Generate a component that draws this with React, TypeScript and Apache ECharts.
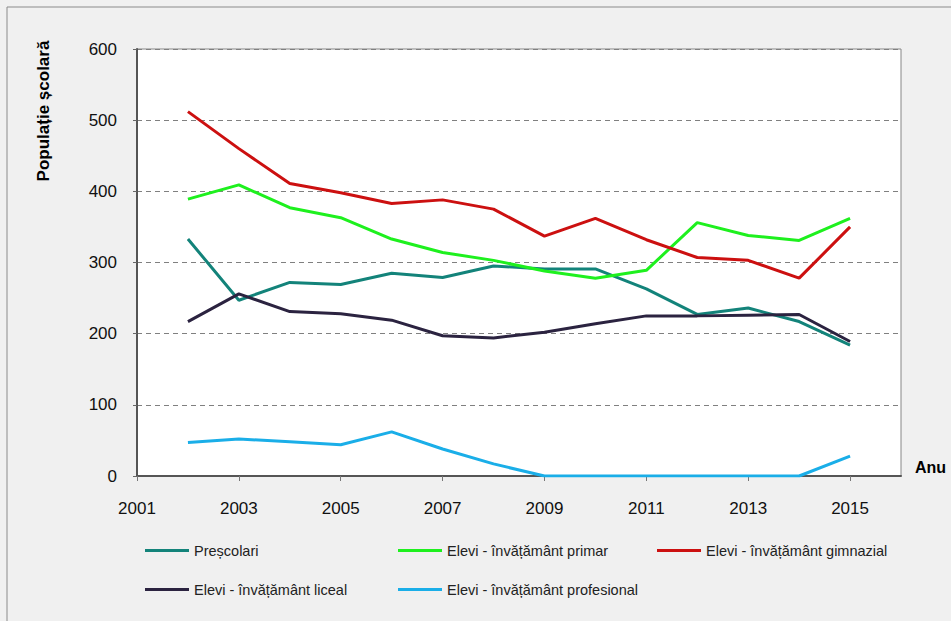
import React, { useEffect, useRef } from "react";
import * as echarts from "echarts";

const years = [2002, 2003, 2004, 2005, 2006, 2007, 2008, 2009, 2010, 2011, 2012, 2013, 2014, 2015];
const prescolari = [333, 247, 272, 269, 285, 279, 295, 291, 291, 263, 227, 236, 217, 184];
const primar = [389, 409, 377, 363, 333, 314, 303, 288, 278, 289, 356, 338, 331, 362];
const gimnazial = [512, 460, 411, 398, 383, 388, 375, 337, 362, 332, 307, 303, 278, 350];
const liceal = [217, 256, 231, 228, 219, 197, 194, 202, 214, 225, 225, 226, 227, 189];
const profesional = [47, 52, 48, 44, 62, 38, 17, 0, 0, 0, 0, 0, 0, 28];

const seriesNames = [
  "Preșcolari",
  "Elevi - învățământ primar",
  "Elevi - învățământ gimnazial",
  "Elevi - învățământ liceal",
  "Elevi - învățământ profesional",
];
const seriesValues = [prescolari, primar, gimnazial, liceal, profesional];
const seriesColors = ["#13837a", "#1ef01e", "#cc1010", "#2b2340", "#1aaee8"];
const legendPos = [
  { left: 145, top: 543 },
  { left: 398, top: 543 },
  { left: 657, top: 543 },
  { left: 145, top: 582 },
  { left: 398, top: 582 },
];

export default function App() {
  const ref = useRef<HTMLDivElement>(null);
  useEffect(() => {
    if (!ref.current) return;
    const chart = echarts.init(ref.current, undefined, { renderer: "svg" });
    const font = "Liberation Sans, Arial, sans-serif";
    chart.setOption({
      animation: false,
      backgroundColor: "#f0f0f0",
      textStyle: { fontFamily: font },
      grid: {
        left: 137,
        top: 49,
        right: 50,
        bottom: 145,
        show: true,
        backgroundColor: "#ffffff",
        borderColor: "#868686",
        borderWidth: 1,
      },
      legend: seriesNames.map((n, i) => ({
        data: [n],
        left: legendPos[i].left,
        top: legendPos[i].top,
        padding: 0,
        icon: "rect",
        itemWidth: 44,
        itemHeight: 3,
        textStyle: { fontFamily: font, fontSize: 14.5, color: "#222" },
      })),
      graphic: [
        {
          type: "rect",
          shape: { x: 7, y: 7, width: 1000, height: 700 },
          style: { fill: "none", stroke: "#8a8a8a", lineWidth: 1 },
          silent: true,
        },
        {
          type: "text",
          x: 43,
          y: 111,
          rotation: Math.PI / 2,
          style: {
            text: "Populație școlară",
            font: "bold 17px " + font,
            fill: "#000",
            align: "center",
            verticalAlign: "middle",
          },
        },
        {
          type: "text",
          x: 915,
          y: 467,
          style: {
            text: "Anu",
            font: "bold 16px " + font,
            fill: "#000",
            align: "left",
            verticalAlign: "middle",
          },
        },
      ],
      xAxis: {
        type: "value",
        min: 2001,
        max: 2016,
        interval: 2,
        axisLine: { show: true, lineStyle: { color: "#555", width: 2 } },
        axisTick: { show: true, length: 5, lineStyle: { color: "#777" } },
        axisLabel: {
          showMaxLabel: false,
          margin: 24,
          fontSize: 17,
          color: "#111",
          formatter: (v: number) => String(v),
        },
        splitLine: { show: false },
      },
      yAxis: {
        type: "value",
        min: 0,
        max: 600,
        interval: 100,
        axisLine: { show: true, lineStyle: { color: "#555", width: 2 } },
        axisTick: { show: true, length: 6, lineStyle: { color: "#666", type: [4, 3] } },
        axisLabel: { margin: 20, fontSize: 17, color: "#111" },
        splitLine: { show: true, lineStyle: { color: "#808080", type: [5, 4], width: 1 } },
      },
      series: seriesNames.map((n, i) => ({
        name: n,
        type: "line",
        symbol: "none",
        color: seriesColors[i],
        lineStyle: { width: 3, color: seriesColors[i] },
        data: years.map((y, j) => [y, seriesValues[i][j]]),
      })),
    });
    return () => chart.dispose();
  }, []);
  return (
    <div
      ref={ref}
      style={{ position: "fixed", left: 0, top: 0, width: 951, height: 621 }}
    />
  );
}
